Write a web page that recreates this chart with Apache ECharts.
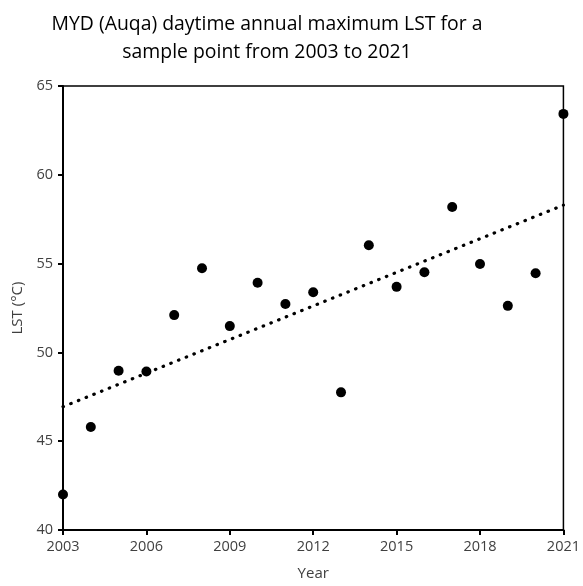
<!DOCTYPE html>
<html>
<head>
<meta charset="utf-8">
<script src="https://cdn.jsdelivr.net/npm/echarts@6/dist/echarts.min.js"></script>
<style>
  html, body { margin: 0; padding: 0; background: #fff; }
  #chart { width: 583px; height: 586px; }
</style>
</head>
<body>
<div id="chart"></div>
<script>
(function () {
  'use strict';

  // ── Data ──

  var YEARS = [2003, 2004, 2005, 2006, 2007, 2008, 2009, 2010, 2011, 2012,
    2013, 2014, 2015, 2016, 2017, 2018, 2019, 2020, 2021];
  var LST_MAX = [42.0, 45.8, 48.97, 48.92, 52.1, 54.74, 51.48, 53.92, 52.73, 53.39,
    47.75, 56.03, 53.69, 54.51, 58.19, 54.98, 52.62, 54.46, 63.43];

  var BASE_YEAR = 2003;
  var FONT = '"Open Sans", sans-serif';
  var GREY = '#404040';

  // ── Linear trendline (least squares, like Excel) ──

  function linearFit(xs, ys) {
    var n = xs.length, sx = 0, sy = 0, sxx = 0, sxy = 0;
    for (var i = 0; i < n; i++) {
      sx += xs[i]; sy += ys[i];
      sxx += xs[i] * xs[i]; sxy += xs[i] * ys[i];
    }
    var slope = (n * sxy - sx * sy) / (n * sxx - sx * sx);
    return { slope: slope, intercept: (sy - slope * sx) / n };
  }

  var xs = YEARS.map(function (y) { return y - BASE_YEAR; });
  var fit = linearFit(xs, LST_MAX);
  var xFirst = xs[0], xLast = xs[xs.length - 1];
  var trend = [
    [xFirst, fit.intercept + fit.slope * xFirst],
    [xLast, fit.intercept + fit.slope * xLast],
  ];

  var chart = echarts.init(document.getElementById('chart'), null, { renderer: 'canvas' });
  chart.setOption({
    animation: false,
    title: {
      text: 'MYD (Auqa) daytime annual maximum LST for a\nsample point from 2003 to 2021',
      left: 262,
      top: 5,
      textAlign: 'center',
      textStyle: { fontFamily: FONT, fontSize: 19.4, fontWeight: 'normal', color: '#000', lineHeight: 28 },
    },
    grid: {
      left: 63, right: 17, top: 86, bottom: 55,
      show: true, borderColor: '#000', borderWidth: 1.5,
    },
    xAxis: {
      type: 'value',
      min: 0, max: 18, interval: 3,
      name: 'Year',
      nameLocation: 'middle',
      nameGap: 36,
      nameTextStyle: { fontFamily: FONT, fontSize: 15, color: GREY },
      axisLine: { lineStyle: { color: '#000', width: 2 } },
      axisTick: { show: true, inside: false, length: 5, lineStyle: { color: '#000', width: 2 } },
      axisLabel: {
        fontFamily: FONT, fontSize: 14.5, color: GREY, margin: 9,
        formatter: function (v) { return String(v + BASE_YEAR); },
      },
      splitLine: { show: false },
    },
    yAxis: {
      type: 'value',
      min: 40, max: 65, interval: 5,
      name: 'LST (°C)',
      nameLocation: 'middle',
      nameGap: 34,
      nameTextStyle: { fontFamily: FONT, fontSize: 15, color: GREY },
      axisLine: { show: true, lineStyle: { color: '#000', width: 2 } },
      axisTick: { show: true, inside: false, length: 5, lineStyle: { color: '#000', width: 2 } },
      axisLabel: { fontFamily: FONT, fontSize: 14.5, color: GREY, margin: 10 },
      splitLine: { show: false },
    },
    series: [
      {
        name: 'Trend',
        type: 'line',
        data: trend,
        symbol: 'none',
        lineStyle: { color: '#000', width: 3.2, type: [0.5, 7.8], cap: 'round' },
        z: 2,
      },
      {
        name: 'LST max',
        type: 'scatter',
        data: xs.map(function (x, i) { return [x, LST_MAX[i]]; }),
        symbol: 'circle',
        symbolSize: 10,
        itemStyle: { color: '#000', opacity: 1 },
        z: 3,
      },
    ],
  });
})();
</script>
</body>
</html>
